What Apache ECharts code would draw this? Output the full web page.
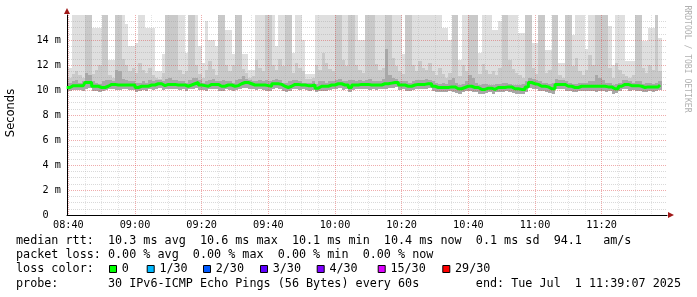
<!DOCTYPE html>
<html><head><meta charset="utf-8">
<script src="https://cdn.jsdelivr.net/npm/echarts@6/dist/echarts.min.js"></script>
<style>html,body{margin:0;padding:0;background:#fff}#c{width:697px;height:297px}</style>
</head><body><div id="c"></div>
<script>
// minutes after 08:00 of the first one-minute column (08:39)
const firstColMinute = 39;

// median RTT per minute (ms)
const median = [10.2,10.2,10.35,10.35,10.35,10.35,10.6,10.6,10.3,10.3,
 10.2,10.2,10.3,10.45,10.45,10.4,10.4,10.4,10.4,10.4,
 10.4,10.2,10.3,10.3,10.3,10.4,10.4,10.5,10.5,10.35,
 10.45,10.45,10.45,10.4,10.4,10.4,10.3,10.4,10.5,10.6,
 10.4,10.35,10.3,10.45,10.45,10.45,10.3,10.3,10.4,10.4,
 10.3,10.35,10.5,10.6,10.6,10.5,10.4,10.4,10.4,10.4,
 10.35,10.3,10.5,10.5,10.45,10.3,10.2,10.3,10.45,10.45,
 10.4,10.4,10.35,10.35,10.4,10.15,10.3,10.3,10.3,10.4,
 10.4,10.5,10.5,10.4,10.4,10.2,10.4,10.4,10.45,10.45,
 10.45,10.4,10.4,10.4,10.4,10.5,10.5,10.55,10.6,10.6,
 10.4,10.4,10.3,10.3,10.4,10.45,10.45,10.45,10.5,10.5,
 10.3,10.2,10.2,10.2,10.2,10.25,10.25,10.1,10.1,10.2,
 10.3,10.3,10.2,10.2,10.05,10.05,10.15,10.15,10.05,10.2,
 10.2,10.2,10.25,10.25,10.1,10.1,10.05,10.05,10.25,10.6,
 10.5,10.45,10.3,10.3,10.25,10.1,10.1,10.45,10.45,10.45,
 10.3,10.3,10.2,10.2,10.3,10.3,10.3,10.3,10.3,10.3,
 10.3,10.3,10.25,10.25,10.1,10.1,10.3,10.45,10.45,10.35,
 10.35,10.35,10.3,10.2,10.25,10.25,10.25,10.25,10.4];

// lowest ping of the smoke per minute (ms)
const smokeLow = [9.8,9.9,10.0,10.0,10.0,9.95,10.1,10.2,9.95,9.9,
 9.85,9.9,10.0,10.1,10.05,10.0,10.0,10.05,10.1,10.0,
 10.0,9.85,9.95,10.0,9.95,10.05,10.0,10.1,10.15,10.0,
 10.1,10.1,10.05,10.05,10.0,10.05,9.95,10.05,10.1,10.2,
 10.0,10.0,9.95,10.1,10.05,10.1,9.95,9.9,10.05,10.0,
 9.95,10.0,10.1,10.2,10.2,10.1,10.05,10.0,10.05,10.0,
 9.95,9.9,10.1,10.15,10.1,9.95,9.85,9.95,10.1,10.1,
 10.0,10.05,10.0,9.95,10.0,9.8,9.95,9.9,9.95,10.0,
 10.05,10.1,10.15,10.0,10.05,9.8,10.0,10.05,10.1,10.05,
 10.1,10.0,10.05,10.0,10.05,10.1,10.1,10.2,10.2,10.25,
 10.0,10.05,9.9,9.95,10.0,10.1,10.05,10.1,10.1,10.15,
 9.9,9.85,9.8,9.85,9.8,9.9,9.85,9.75,9.7,9.8,
 9.9,9.95,9.85,9.8,9.7,9.7,9.75,9.8,9.7,9.85,
 9.8,9.85,9.9,9.85,9.75,9.7,9.65,9.7,9.85,10.2,
 10.1,10.05,9.95,9.9,9.85,9.75,9.7,10.05,10.1,10.05,
 9.9,9.95,9.8,9.85,9.9,9.95,9.9,9.95,9.9,9.85,
 9.9,9.95,9.85,9.9,9.7,9.75,9.95,10.05,10.1,9.95,
 10.0,9.95,9.9,9.8,9.85,9.9,9.85,9.9,10.0];

// top of the dark smoke band (ms)
const smokeDark = [10.5,10.6,10.7,10.8,10.6,10.7,11.4,11.2,10.7,10.6,
 10.5,10.7,10.8,10.8,10.7,11.6,11.5,10.9,10.8,10.7,
 10.7,10.6,10.6,10.7,10.6,10.8,10.7,10.8,10.8,10.7,
 10.9,11.0,10.8,10.8,10.7,10.7,10.6,10.8,11.0,11.0,
 10.8,10.6,10.7,10.8,10.9,10.7,10.7,10.8,10.7,10.7,
 10.6,10.8,10.9,11.1,10.9,10.8,10.7,10.7,10.8,10.7,
 10.8,10.7,10.8,10.9,10.8,10.6,10.6,10.7,10.8,10.8,
 10.7,10.6,10.6,10.6,10.7,10.5,10.7,10.7,10.6,10.7,
 10.7,10.8,10.9,10.7,10.7,10.8,10.8,10.7,10.8,10.7,
 10.8,10.9,10.7,10.7,10.7,10.9,13.3,11.2,11.0,10.9,
 10.7,10.7,10.7,10.6,10.7,10.8,10.8,10.8,10.9,10.8,
 10.7,10.6,10.5,10.6,10.5,10.8,11.0,10.6,10.4,10.5,
 10.7,11.2,11.0,10.6,10.4,10.5,10.5,10.4,10.4,10.5,
 10.5,10.6,10.6,10.5,10.4,10.4,10.4,10.5,10.7,11.0,
 10.9,10.8,10.7,10.6,10.6,10.5,10.6,10.9,10.8,10.8,
 10.7,10.6,10.5,10.5,10.6,10.6,10.6,10.7,10.7,11.2,
 11.0,10.8,10.6,10.6,10.4,10.5,10.6,10.8,10.8,10.7,
 10.6,10.7,10.7,10.5,10.6,10.6,10.5,10.6,10.7];

// top of the medium smoke band (ms)
const smokeMid = [10.9,11.0,11.3,11.5,11.2,11.0,16,16,11.3,11.6,
 12.0,16,16,11.2,11.0,16,16,12.5,12.0,11.5,
 11.8,11.4,12.2,11.6,11.4,11.8,11.2,11.0,10.9,11.4,
 16,16,16,16,11.6,11.3,11.5,16,16,12.0,
 11.3,11.0,11.6,12.3,11.7,11.2,16,16,12.0,11.5,
 12.0,16,16,11.7,11.4,11.0,11.1,12.4,11.8,11.5,
 16,16,12.0,11.6,12.5,11.9,16,16,11.4,12.2,
 11.8,11.5,10.9,10.9,11.0,12.0,11.6,13.0,12.2,11.7,
 11.5,16,16,12.4,11.9,16,16,12.0,11.6,11.4,
 16,16,16,12.1,11.6,11.8,16,16,12.6,11.9,
 11.5,11.3,16,16,12.0,11.5,12.3,11.8,11.6,12.2,
 11.5,11.2,11.8,11.3,11.0,11.4,16,16,11.1,12.0,
 11.5,16,16,16,11.3,12.1,11.6,11.3,11.5,11.2,
 11.8,16,16,12.4,11.7,11.4,11.2,11.0,16,16,
 11.8,11.3,16,16,11.4,11.6,16,16,11.2,11.0,
 16,16,11.9,12.6,11.5,11.2,11.6,12.8,12.0,16,
 16,16,16,11.8,11.0,12.2,11.6,11.3,11.1,11.0,
 11.2,16,16,11.8,11.4,12.0,11.6,16,11.5];

// top of the light smoke band (highest pings, ms)
const smokeLight = [11.8,11.8,16,16,16,16,16,16,15.0,15.0,
 15.0,16,16,12.4,12.4,16,16,16,15.3,13.5,
 13.5,13.8,16,16,15.0,15.0,15.0,11.5,11.5,12.9,
 16,16,16,16,16,16,13.0,16,16,16,
 13.5,12.2,15.5,14.0,14.0,13.5,16,16,14.8,14.8,
 12.9,16,16,12.9,12.9,11.6,11.6,16,16,16,
 16,16,16,13.5,16,16,16,16,13.0,16,
 16,14.0,11.3,11.3,11.3,16,16,16,16,16,
 16,16,16,16,16,16,16,16,14.0,14.0,
 16,16,16,16,16,16,16,16,16,16,
 16,12.9,16,16,16,16,16,16,16,16,
 16,16,16,15.0,15.0,14.0,16,16,12.4,16,
 16,16,16,16,13.0,16,16,16,14.8,14.8,
 15.5,16,16,16,16,16,14.6,14.6,16,16,
 13.8,13.8,16,16,13.2,13.2,16,16,12.2,12.2,
 16,16,14.4,16,16,16,13.3,16,16,16,
 16,16,16,15.1,12.0,16,16,16,12.3,12.3,
 12.3,16,16,13.9,13.9,15.0,15.0,16,14.2];

const xTickMinutes = [40, 60, 80, 100, 120, 140, 160, 180, 200];
const xTickLabels = ['08:40','09:00','09:20','09:40','10:00','10:20','10:40','11:00','11:20'];
const yTickValues = [0, 2, 4, 6, 8, 10, 12, 14];
const yTickLabels = ['0  ','2 m','4 m','6 m','8 m','10 m','12 m','14 m'];

const legendLines = [
 'median rtt:  10.3 ms avg  10.6 ms max  10.1 ms min  10.4 ms now  0.1 ms sd  94.1   am/s',
 'packet loss: 0.00 % avg  0.00 % max  0.00 % min  0.00 % now',
 'loss color:',
 'probe:       30 IPv6-ICMP Echo Pings (56 Bytes) every 60s        end: Tue Jul  1 11:39:07 2025'
];
const lossLabels = ['0','1/30','2/30','3/30','4/30','15/30','29/30'];
const lossColors = ['#00ff00','#00b8ff','#0059ff','#5e00ff','#7e00ff','#dd00ff','#ff0000'];

const MONO = '"DejaVu Sans Mono", monospace';
const chart = echarts.init(document.getElementById('c'), null, {renderer: 'canvas'});

const plotLeft = 67, plotTop = 15, plotW = 600, plotH = 200;
const axisMin = 39.6, axisMax = 219.6;
const minorGridH = {color: 'rgba(160,160,160,0.4)', type: 'dotted', width: 1};
const minorGridV = {color: 'rgba(170,170,170,0.3)', type: 'dotted', width: 1};
const majorGrid = {color: 'rgba(220,70,70,0.45)', type: 'dotted', width: 1};

const smokeData = median.map((_, i) => [firstColMinute + i, smokeLow[i], smokeDark[i], smokeMid[i], smokeLight[i]]);
const lineData = median.map((v, i) => [firstColMinute + i + 0.5, v]);

function renderSmoke(params, api) {
  const t = api.value(0);
  const x0 = Math.round(api.coord([t, 0])[0]);
  const x1 = Math.round(api.coord([t + 1, 0])[0]);
  const y = v => Math.round(api.coord([t, v])[1]);
  const yb = y(api.value(1));
  const band = (top, fill) => ({type: 'rect', shape: {x: x0, y: y(top), width: x1 - x0, height: yb - y(top)}, style: {fill}});
  return {type: 'group', children: [
    band(api.value(4), '#dfdfdf'),
    band(api.value(3), '#c9c9c9'),
    band(api.value(2), '#a8a8a8')
  ]};
}

const graphics = [];
legendLines.forEach((t, k) => {
  graphics.push({type: 'text', x: 16, y: [241, 255, 269, 283.5][k], style: {text: t, font: '11.75px ' + MONO, fill: '#000', verticalAlign: 'middle', align: 'left'}});
});
const boxX = [109, 146.7, 203, 260, 316.7, 377.7, 442.3];
lossLabels.forEach((l, k) => {
  graphics.push({type: 'rect', shape: {x: boxX[k] + 0.5, y: 265.5, width: 7, height: 7}, style: {fill: lossColors[k], stroke: '#000', lineWidth: 1}});
  graphics.push({type: 'text', x: boxX[k] + 12.7, y: 269, style: {text: l, font: '11.75px ' + MONO, fill: '#000', verticalAlign: 'middle', align: 'left'}});
});
graphics.push({type: 'text', x: 11, y: 113, rotation: Math.PI / 2, style: {text: 'Seconds', font: '11.5px "DejaVu Sans"', fill: '#000', align: 'center', verticalAlign: 'middle'}});
graphics.push({type: 'text', x: 687, y: 59, rotation: -Math.PI / 2, style: {text: 'RRDTOOL / TOBI OETIKER', font: '8.1px ' + MONO, fill: '#b0b0b0', align: 'center', verticalAlign: 'middle'}});
graphics.push({type: 'polygon', shape: {points: [[67, 8], [64, 14], [70, 14]]}, style: {fill: '#a01818'}});
graphics.push({type: 'polygon', shape: {points: [[674, 215], [668, 212], [668, 218]]}, style: {fill: '#a01818'}});

chart.setOption({
  animation: false,
  backgroundColor: '#fff',
  grid: [
    {left: plotLeft, top: plotTop, width: plotW, height: plotH},
    {left: plotLeft + (40 - axisMin) * plotW / 180, top: plotTop, width: plotW, height: plotH}
  ],
  xAxis: [
    {gridIndex: 0, type: 'value', min: axisMin, max: axisMax,
     axisLine: {show: true, onZero: false, lineStyle: {color: '#000', width: 1}},
     axisTick: {show: false}, axisLabel: {show: false}, splitLine: {show: false}},
    {gridIndex: 1, type: 'value', min: 40, max: 220, interval: 20,
     axisLine: {show: false}, axisTick: {show: false},
     axisLabel: {margin: 5, fontFamily: MONO, fontSize: 10.2, color: '#000',
       formatter: v => { const k = xTickMinutes.indexOf(Math.round(v)); return k >= 0 ? xTickLabels[k] : ''; }},
     splitLine: {show: true, showMinLine: true, showMaxLine: false, lineStyle: majorGrid},
     minorTick: {show: false, splitNumber: 4},
     minorSplitLine: {show: true, lineStyle: minorGridV}}
  ],
  yAxis: [
    {gridIndex: 0, type: 'value', min: 0, max: 16, interval: 2,
     axisLine: {show: true, lineStyle: {color: '#000', width: 1}},
     axisTick: {show: false},
     axisLabel: {margin: 6, fontFamily: MONO, fontSize: 10.2, color: '#000',
       formatter: v => { const k = yTickValues.indexOf(Math.round(v)); return k >= 0 ? yTickLabels[k] : ''; }},
     splitLine: {show: true, showMinLine: false, showMaxLine: false, lineStyle: majorGrid},
     minorTick: {show: false, splitNumber: 4},
     minorSplitLine: {show: true, lineStyle: minorGridH}},
    {gridIndex: 1, type: 'value', min: 0, max: 16, show: false}
  ],
  series: [
    {type: 'custom', xAxisIndex: 0, yAxisIndex: 0, clip: true, z: -1, silent: true,
     data: smokeData, encode: {x: 0, y: [1, 2, 3, 4]}, renderItem: renderSmoke},
    {type: 'line', xAxisIndex: 0, yAxisIndex: 0, data: lineData, step: 'middle', symbol: 'none',
     clip: true, z: 5, lineStyle: {color: '#00ff00', width: 3}}
  ],
  graphic: graphics
});
</script></body></html>
